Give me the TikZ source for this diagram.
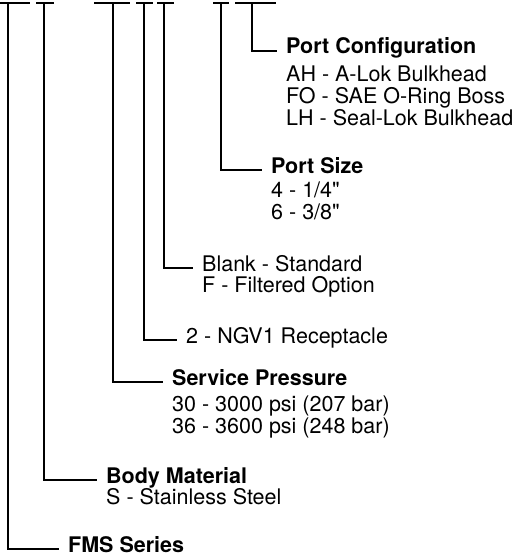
\documentclass[tikz,border=0pt]{standalone}
\usepackage{fontspec}
\setmainfont{TeX Gyre Heros}
\usetikzlibrary{positioning}

\begin{document}
\begin{tikzpicture}[
		x=1pt, y=-1pt,
		wire/.style = {draw, line width=1.9pt},
		head/.style = {inner sep=0pt, anchor=base west, font=\fontsize{21.5}{21.5}\selectfont\bfseries, text height=15pt, text depth=5pt},
		item/.style = {inner sep=0pt, font=\fontsize{21.5}{21.5}\selectfont, text height=15pt, text depth=6.5pt}
	]
	\useasboundingbox (0,0) rectangle (526,556);
	% Bars along the top.
	\foreach \l/\r/\v/\n in {0/30/8/fms, 36/54/44/mat, 94/130/113/prs, 136/153/144/rcp, 157/174/164/opt, 213/229/221/siz, 235/276/252/cfg} {
		\draw[wire] (\l,3) -- (\r,3);
		\coordinate (\n-top) at (\v,3);
	}
	% Port configuration.
	\node[head] (cfg) at (286,54) {Port Configuration};
	\node[item, below=7pt of cfg.south west, anchor=north west] (cfgA) {AH - A-Lok Bulkhead};
	\node[item, below=0pt of cfgA.south west, anchor=north west] (cfgF) {FO - SAE O-Ring Boss};
	\node[item, below=0pt of cfgF.south west, anchor=north west] (cfgL) {LH - Seal-Lok Bulkhead};
	% Port size.
	\node[head] (siz) at (271,173) {Port Size};
	\node[item, below=4pt of siz.south west, anchor=north west] (siz4) {4 - 1/4\textquotedbl};
	\node[item, below=0pt of siz4.south west, anchor=north west] (siz6) {6 - 3/8\textquotedbl};
	% Option.
	\node[item, anchor=base west] (opt) at (202,271) {Blank - Standard};
	\node[item, below=0pt of opt.south west, anchor=north west] (optF) {F - Filtered Option};
	% Receptacle.
	\node[item, anchor=base west] (rcp) at (186,343) {2 - NGV1 Receptacle};
	% Service pressure.
	\node[head] (prs) at (172,385) {Service Pressure};
	\node[item, below=6pt of prs.south west, anchor=north west] (prs30) {30 - 3000 psi (207 bar)};
	\node[item, below=0pt of prs30.south west, anchor=north west] (prs36) {36 - 3600 psi (248 bar)};
	% Body material.
	\node[head] (mat) at (106,483) {Body Material};
	\node[item, below=1pt of mat.south west, anchor=north west] (matS) {S - Stainless Steel};
	% Series.
	\node[head, text depth=0pt] (fms) at (68,552) {FMS Series};

	\foreach \n in {cfg, siz, opt, rcp, prs, mat, fms}
		\draw[wire] (\n-top) |- ([xshift=-9pt, yshift=3pt]\n.base west);
\end{tikzpicture}
\end{document}
